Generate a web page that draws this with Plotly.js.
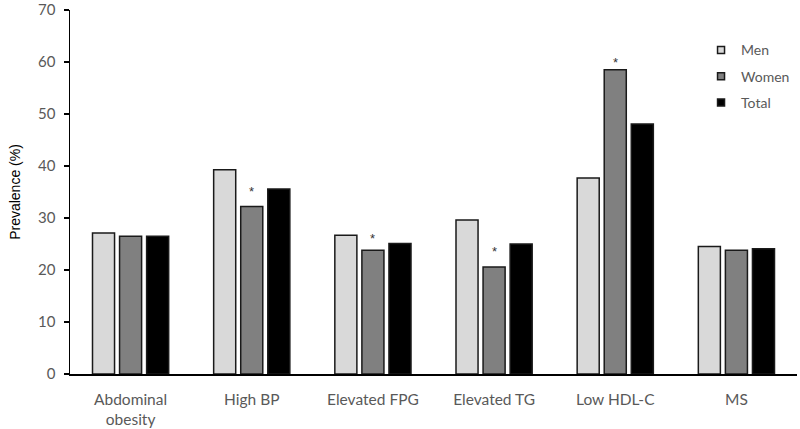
<!DOCTYPE html>
<html>
<head>
<meta charset="utf-8">
<script src="https://cdn.plot.ly/plotly-3.0.1.min.js"></script>
<style>html,body{margin:0;padding:0;background:#fff;}#chart{width:800px;height:429px;}</style>
</head>
<body>
<div id="chart"></div>
<script>
const categories = ["Abdominal<br>obesity", "High BP", "Elevated FPG", "Elevated TG", "Low HDL-C", "MS"];
const men   = [27.1, 39.3, 26.7, 29.6, 37.7, 24.5];
const women = [26.5, 32.2, 23.8, 20.6, 58.5, 23.8];
const total = [26.5, 35.6, 25.1, 25.0, 48.1, 24.1];
const starCategories = ["High BP", "Elevated FPG", "Elevated TG", "Low HDL-C"];
const starLevels = [35.7, 26.7, 24.1, 60.4];
const yTicks = [0, 10, 20, 30, 40, 50, 60, 70];

const series = [
  {name: "Men", y: men, color: "#d9d9d9"},
  {name: "Women", y: women, color: "#808080"},
  {name: "Total", y: total, color: "#000000"}
];
const outline = {color: "#1a1a1a", width: 1.5};

const bars = series.map(s => ({
  type: "bar", name: s.name, x: categories, y: s.y, showlegend: false,
  marker: {color: s.color, line: outline}, hoverinfo: "none"
}));
const legendItems = series.map((s, i) => ({
  type: "scatter", mode: "markers", name: s.name, x: [null], y: [null],
  legendgroup: "g" + i, showlegend: true,
  marker: {symbol: "square", size: 7, color: s.color, line: {color: "#1a1a1a", width: 1.5}}
}));

const annotations = starCategories.map((c, i) => ({
  x: c, y: starLevels[i], xref: "x", yref: "y",
  text: "*", showarrow: false, yanchor: "middle", yshift: -3,
  font: {family: "Liberation Sans, Arial", size: 13, color: "#333"}
}));

const layout = {
  width: 800, height: 429,
  margin: {l: 70, r: 3, t: 10, b: 55},
  paper_bgcolor: "#fff", plot_bgcolor: "#fff",
  barmode: "group", bargap: 0.33, bargroupgap: 0.185,
  showlegend: true,
  legend: {x: 0.868, y: 0.933, xanchor: "left", yanchor: "top",
    font: {family: "Lato, sans-serif", size: 14, color: "#595959"},
    tracegroupgap: 5, traceorder: "grouped", bgcolor: "rgba(0,0,0,0)", itemwidth: 30},
  xaxis: {
    type: "category", showline: true, linecolor: "#000", linewidth: 1.5,
    ticks: "", showgrid: false, zeroline: false, ticklabelstandoff: 11,
    tickfont: {family: "Lato, sans-serif", size: 15.5, color: "#595959"}
  },
  yaxis: {
    range: [0, 70], tickvals: yTicks, ticktext: yTicks.map(String),
    showline: true, linecolor: "#000", linewidth: 1.5,
    ticks: "outside", ticklen: 5, tickcolor: "#000", tickwidth: 1.5,
    showgrid: false, zeroline: false, ticklabelstandoff: 5,
    tickfont: {family: "Lato, sans-serif", size: 15, color: "#595959"},
    title: {text: "Prevalence (%)", standoff: 14,
      font: {family: "Liberation Sans, Arial", size: 14, color: "#000"}}
  },
  annotations: annotations
};

Plotly.newPlot("chart", bars.concat(legendItems), layout, {staticPlot: true, displayModeBar: false});
</script>
</body>
</html>
